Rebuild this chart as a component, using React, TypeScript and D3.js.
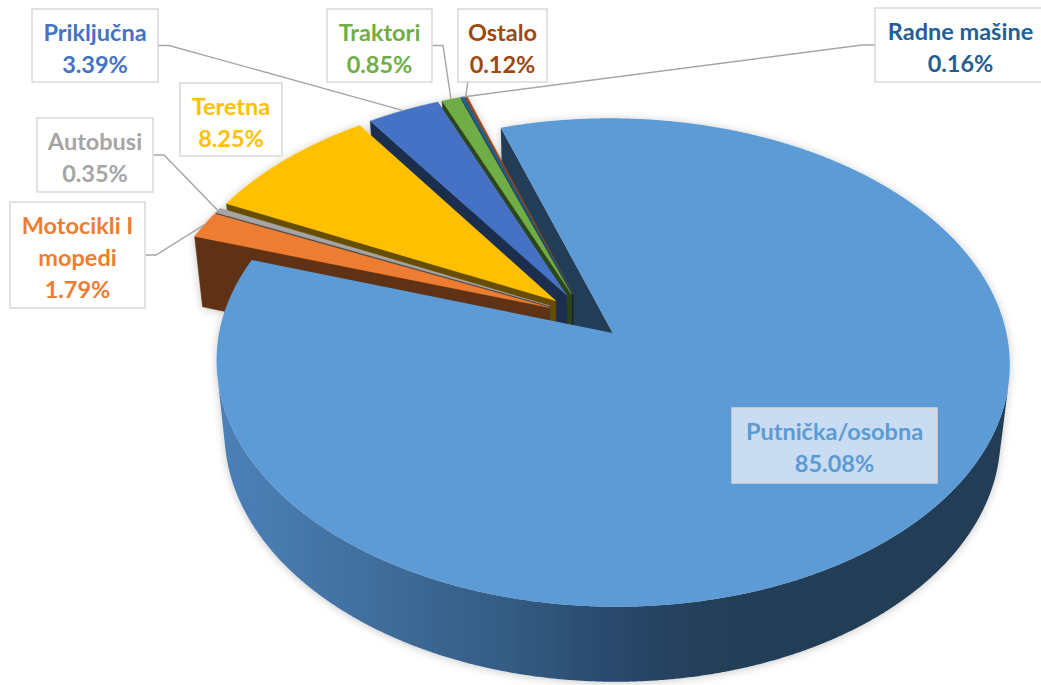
import React from "react";
import * as d3 from "d3";

// ---- data ----
const categories = ["Putnička/osobna", "Motocikli I mopedi", "Autobusi", "Teretna", "Priključna", "Traktori", "Radne mašine", "Ostalo"];
const shares = [85.08, 1.79, 0.35, 8.25, 3.39, 0.85, 0.16, 0.12];
const sliceColors = ["#5B9BD5", "#ED7D31", "#A5A5A5", "#FFC000", "#4472C4", "#70AD47", "#255E91", "#9E480E"];

// ---- layout (label boxes) ----
type LabelLayout = { box: [number, number, number, number]; lines: number; link: "right" | "left" | "bottom" | "none"; fill?: string };
const labelLayout: LabelLayout[] = [
  { box: [732, 408, 937, 483], lines: 1, link: "none", fill: "#C9DCF1" },
  { box: [10, 202, 145, 308], lines: 2, link: "right" },
  { box: [37, 118, 153, 192], lines: 1, link: "right" },
  { box: [180, 83, 282, 156], lines: 1, link: "none" },
  { box: [32, 9, 158, 82], lines: 1, link: "right" },
  { box: [327, 9, 432, 82], lines: 1, link: "right" },
  { box: [875, 8, 1046, 82], lines: 1, link: "left" },
  { box: [458, 9, 547, 82], lines: 1, link: "bottom" },
];

// ---- 3D projection ----
const D = 6.62;
const S = 0.606;
const C = Math.sqrt(1 - S * S);
const F = 2584;
const X0 = 585;
const Y0 = 316;
const H = 0.236;
const E = 0.1;
const START = (-18 * Math.PI) / 180;

function proj(x: number, y: number, z: number): [number, number] {
  const depth = D + y * C - z * S;
  const up = y * S + z * C;
  return [X0 + (F * x) / depth, Y0 - (F * up) / depth];
}
const cam = [0, -D * C, D * S];

function shade(col: string, k: number) {
  const c = d3.rgb(col);
  return d3.rgb(c.r * k, c.g * k, c.b * k).formatHex();
}

const line = d3.line();
const STEP = (0.25 * Math.PI) / 180;

function arcPts(ox: number, oy: number, a0: number, a1: number, z: number, reverse = false) {
  const n = Math.max(2, Math.ceil((a1 - a0) / STEP) + 1);
  const pts: [number, number][] = [];
  for (let i = 0; i < n; i++) {
    const t = a0 + ((a1 - a0) * i) / (n - 1);
    pts.push(proj(ox + Math.sin(t), oy + Math.cos(t), z));
  }
  return reverse ? pts.reverse() : pts;
}

const pie = d3.pie<number>().sort(null).startAngle(START).endAngle(START + 2 * Math.PI);
const arcs = pie(shares);

type Geo = {
  i: number;
  top: string;
  outer: string[];
  start?: string;
  end?: string;
  depth: number;
  anchor: [number, number];
};

const geos: Geo[] = arcs.map((a, i) => {
  const a0 = a.startAngle;
  const a1 = a.endAngle;
  const m = (a0 + a1) / 2;
  const ox = E * Math.sin(m);
  const oy = E * Math.cos(m);
  const apex = proj(ox, oy, 0);
  const top = line([apex, ...arcPts(ox, oy, a0, a1, 0)])! + "Z";
  const vis = (t: number) => {
    const px = ox + Math.sin(t);
    const py = oy + Math.cos(t);
    return Math.sin(t) * (cam[0] - px) + Math.cos(t) * (cam[1] - py) > 0;
  };
  const outer: string[] = [];
  let rs: number | null = null;
  const n = Math.max(2, Math.ceil((a1 - a0) / STEP) + 1);
  for (let k = 0; k < n; k++) {
    const t = a0 + ((a1 - a0) * k) / (n - 1);
    const v = vis(t);
    if (v && rs === null) rs = t;
    if ((!v || k === n - 1) && rs !== null) {
      const re = v ? t : t - (a1 - a0) / (n - 1);
      if (re > rs) {
        outer.push(line([...arcPts(ox, oy, rs, re, 0), ...arcPts(ox, oy, rs, re, -H, true)])! + "Z");
      }
      rs = null;
    }
  }
  const wall = (ang: number) => {
    const p1 = proj(ox, oy, 0);
    const p2 = proj(ox + Math.sin(ang), oy + Math.cos(ang), 0);
    const p3 = proj(ox + Math.sin(ang), oy + Math.cos(ang), -H);
    const p4 = proj(ox, oy, -H);
    return line([p1, p2, p3, p4])! + "Z";
  };
  const dStart = -Math.cos(a0) * (cam[0] - ox) + Math.sin(a0) * (cam[1] - oy);
  const dEnd = Math.cos(a1) * (cam[0] - ox) - Math.sin(a1) * (cam[1] - oy);
  return {
    i,
    top,
    outer,
    start: dStart > 0 ? wall(a0) : undefined,
    end: dEnd > 0 ? wall(a1) : undefined,
    depth: Math.cos(m),
    anchor: proj(ox + Math.sin(m), oy + Math.cos(m), 0),
  };
});

const big = geos[0];
const small = geos.slice(1).sort((p, q) => q.depth - p.depth);

const FONT = "Lato, 'Open Sans', sans-serif";

export default function App() {
  return (
    <svg width={1041} height={685} style={{ position: "absolute", left: 0, top: 0, background: "#fff" }}>
      <defs>
        <linearGradient id="bigSide" gradientUnits="userSpaceOnUse" x1={215} y1={0} x2={1010} y2={0}>
          <stop offset="0" stopColor="#4C82BA" />
          <stop offset="0.18" stopColor="#41709F" />
          <stop offset="0.38" stopColor="#335A81" />
          <stop offset="0.52" stopColor="#28476A" />
          <stop offset="0.62" stopColor="#243F59" />
          <stop offset="1" stopColor="#223C55" />
        </linearGradient>
        <filter id="sh" x="-10%" y="-10%" width="120%" height="120%">
          <feDropShadow dx="0" dy="1" stdDeviation="4" floodColor="#000" floodOpacity="0.22" />
        </filter>
      </defs>
      <g filter="url(#sh)">
        {big.start && <path d={big.start} fill={shade(sliceColors[0], 0.4)} />}
        {small.map((g) => (
          <g key={g.i}>
            {g.start && <path d={g.start} fill={shade(sliceColors[g.i], 0.4)} stroke={shade(sliceColors[g.i], 0.4)} strokeWidth={0.5} />}
            {g.end && <path d={g.end} fill={shade(sliceColors[g.i], 0.4)} stroke={shade(sliceColors[g.i], 0.4)} strokeWidth={0.5} />}
            {g.outer.map((p, k) => (
              <path key={k} d={p} fill={shade(sliceColors[g.i], 0.4)} />
            ))}
            <path d={g.top} fill={sliceColors[g.i]} stroke={sliceColors[g.i]} strokeWidth={0.5} />
          </g>
        ))}
        {big.end && <path d={big.end} fill={shade(sliceColors[0], 0.4)} />}
        {big.outer.map((p, k) => (
          <path key={k} d={p} fill="url(#bigSide)" />
        ))}
        <path d={big.top} fill={sliceColors[0]} />
      </g>
      {geos.map((g) => {
        const L = labelLayout[g.i];
        const [x0, y0, x1, y1] = L.box;
        const midY = (y0 + y1) / 2;
        const [ax, ay] = g.anchor;
        let pts: [number, number][] | null = null;
        if (L.link === "right") pts = [[x1, midY], [x1 + 11, midY], [ax, ay]];
        if (L.link === "left") pts = [[x0, midY], [x0 - 13, midY], [ax, ay]];
        if (L.link === "bottom") pts = [[ax + 2, y1], [ax, ay]];
        return pts ? <path key={"l" + g.i} d={line(pts)!} fill="none" stroke="#A6A6A6" strokeWidth={1.4} /> : null;
      })}
      {geos.map((g) => {
        const L = labelLayout[g.i];
        const [x0, y0, x1, y1] = L.box;
        const cx = (x0 + x1) / 2;
        const name = categories[g.i];
        let nameLines = [name];
        if (L.lines === 2) {
          const k = name.lastIndexOf(" ");
          nameLines = [name.slice(0, k), name.slice(k + 1)];
        }
        const textLines = [...nameLines, shares[g.i].toFixed(2) + "%"];
        const col = sliceColors[g.i];
        return (
          <g key={"t" + g.i}>
            <rect x={x0} y={y0} width={x1 - x0} height={y1 - y0} fill={L.fill || "#fff"} stroke="#D9D9D9" strokeWidth={1.5} />
            {textLines.map((t, k) => (
              <text
                key={k}
                x={cx}
                y={y0 + 23 + k * 32 + 8.5}
                textAnchor="middle"
                fontFamily={FONT}
                fontWeight="bold"
                fontSize={23.5}
                fill={col}
              >
                {t}
              </text>
            ))}
          </g>
        );
      })}
    </svg>
  );
}
